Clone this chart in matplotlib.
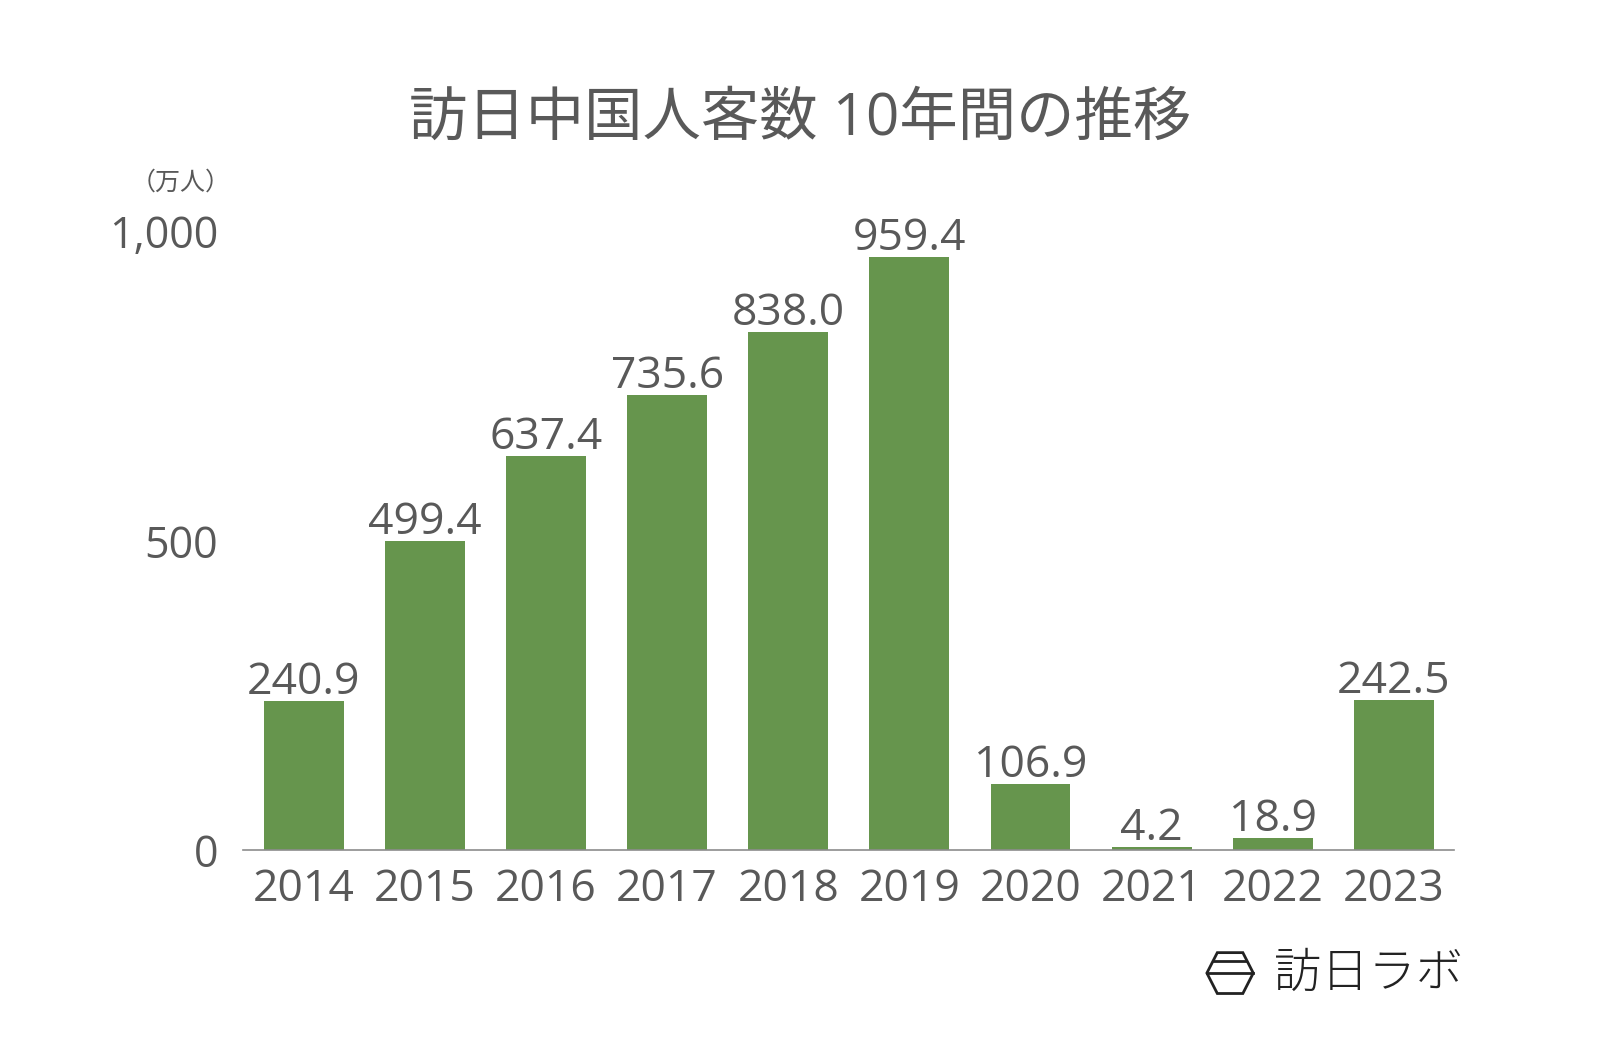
import matplotlib.pyplot as plt
from matplotlib.patches import Polygon
from matplotlib.lines import Line2D

plt.rcParams['font.family'] = ['Open Sans', 'Noto Sans CJK JP', 'DejaVu Sans']

years = ['2014', '2015', '2016', '2017', '2018', '2019', '2020', '2021', '2022', '2023']
visitors = [240.9, 499.4, 637.4, 735.6, 838.0, 959.4, 106.9, 4.2, 18.9, 242.5]
y_ticks = [0, 500, 1000]
y_tick_labels = ['0', '500', '1,000']

text_color = '#595959'
bar_color = '#66954d'

fig = plt.figure(figsize=(16, 10.48), dpi=100)
ax = fig.add_axes([0.152, 0.189, 0.757, 0.590])

x = range(len(years))
bars = ax.bar(x, visitors, width=0.66, color=bar_color)

# Value labels above bars
for xi, v in zip(x, visitors):
    ax.annotate(f'{v:.1f}', (xi, v), xytext=(0, -3), textcoords='offset points',
                ha='center', va='bottom', fontsize=32, color=text_color)

ax.set_xlim(-0.5, len(years) - 0.5)
ax.set_ylim(0, 1000)
ax.set_xticks(list(x))
ax.set_xticklabels(years)
ax.set_yticks(y_ticks)
ax.set_yticklabels(y_tick_labels)
ax.tick_params(axis='x', length=0, pad=13, labelsize=32, labelcolor=text_color)
ax.tick_params(axis='y', length=0, pad=18, labelsize=31, labelcolor=text_color)

for side in ['top', 'right', 'left']:
    ax.spines[side].set_visible(False)
ax.spines['bottom'].set_color('#8c8c8c')
ax.spines['bottom'].set_linewidth(1.2)

# Title and unit
fig.text(0.5, 0.886, '訪日中国人客数 10年間の推移', ha='center', va='center',
         fontsize=42, color=text_color, family=['Open Sans', 'Noto Sans CJK JP'])
fig.text(0.113, 0.826, '（万人）', ha='center', va='center',
         fontsize=18, color=text_color, family=['Noto Sans CJK JP'])

# Logo
cx, cy = 0.7688, 0.0715
w, h = 0.0145, 0.0195
hexagon = Polygon([(cx - w, cy), (cx - w * 0.55, cy + h), (cx + w * 0.55, cy + h),
                   (cx + w, cy), (cx + w * 0.55, cy - h), (cx - w * 0.55, cy - h)],
                  closed=True, fill=False, edgecolor='#222222', linewidth=2,
                  transform=fig.transFigure)
fig.patches.append(hexagon)
fig.lines.append(Line2D([cx - w, cx + w], [cy, cy], color='#222222', linewidth=2,
                        transform=fig.transFigure))
fig.lines.append(Line2D([cx - w * 0.7, cx + w * 0.7], [cy + h * 0.6, cy + h * 0.6],
                        color='#222222', linewidth=2, transform=fig.transFigure))
fig.text(0.796, 0.0715, '訪日ラボ', ha='left', va='center', fontsize=34,
         color='#222222', fontweight='light', family=['Noto Sans CJK JP'])

fig.savefig('out.png', dpi=100, facecolor='white')
